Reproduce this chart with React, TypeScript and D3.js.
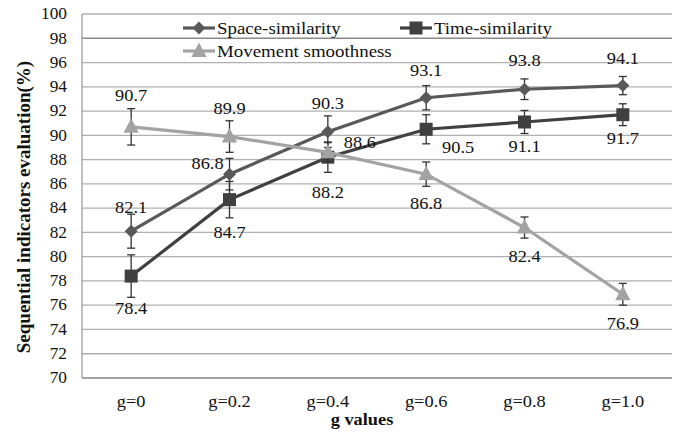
import React from 'react';
import * as d3 from 'd3';

const categories = ['g=0', 'g=0.2', 'g=0.4', 'g=0.6', 'g=0.8', 'g=1.0'];
const spaceValues = [82.1, 86.8, 90.3, 93.1, 93.8, 94.1];
const spaceErrors = [1.4, 1.3, 1.3, 1.0, 0.85, 0.75];
const timeValues = [78.4, 84.7, 88.2, 90.5, 91.1, 91.7];
const timeErrors = [1.75, 1.5, 1.25, 1.2, 0.95, 0.9];
const moveValues = [90.7, 89.9, 88.6, 86.8, 82.4, 76.9];
const moveErrors = [1.5, 1.3, 0.8, 1.0, 0.87, 0.9];
const yTicks = d3.range(70, 101, 2);

// where each data label sits relative to its point (dx, dy of text centre)
const spaceLabelPos = [[0, -24], [-22, -11], [0, -28], [0, -27], [0, -29], [0, -27]];
const timeLabelPos = [[0, 32], [0, 33], [0, 35], [32, 18], [0, 24], [0, 24]];
const moveLabelPos = [[0, -32], [0, -28], [32, -10], [0, 29], [0, 29], [0, 29]];

const W = 688, H = 433;
const left = 82, right = 672, top = 14, bottom = 378;
const SX = 1.08; // the picture is a bit wider than tall

const serif = 'Liberation Serif, DejaVu Serif, serif';

function HText({ x, y, size, children, anchor = 'middle', bold = false }: any) {
  return (
    <text
      transform={`translate(${x},${y}) scale(${SX},1)`}
      textAnchor={anchor}
      dominantBaseline="central"
      style={{ fontFamily: serif, fontSize: size, fontWeight: bold ? 'bold' : 'normal' }}
      fill="#111"
    >
      {children}
    </text>
  );
}

function Marker({ kind, x, y, color }: any) {
  if (kind === 'diamond') {
    const r = 6.5;
    return <path d={`M${x},${y - r}L${x + r},${y}L${x},${y + r}L${x - r},${y}Z`} fill={color} />;
  }
  if (kind === 'square') {
    const s = 13;
    return <rect x={x - s / 2} y={y - s / 2} width={s} height={s} fill={color} />;
  }
  const r = 8.5;
  return <path d={`M${x},${y - r}L${x + r * 0.9},${y + r * 0.7}L${x - r * 0.9},${y + r * 0.7}Z`} fill={color} />;
}

export default function App() {
  const x = d3.scalePoint<string>().domain(categories).range([left, right]).padding(0.5);
  const y = d3.scaleLinear().domain([70, 100]).range([bottom, top]);
  const line = d3.line<number>().x((_, i) => x(categories[i]) as number).y(d => y(d));

  const series = [
    { name: 'Space-similarity', values: spaceValues, errors: spaceErrors, color: '#595959', kind: 'diamond', labels: spaceLabelPos },
    { name: 'Time-similarity', values: timeValues, errors: timeErrors, color: '#404040', kind: 'square', labels: timeLabelPos },
    { name: 'Movement smoothness', values: moveValues, errors: moveErrors, color: '#a3a3a3', kind: 'triangle', labels: moveLabelPos },
  ];

  const legend = [
    { s: series[0], lx: 183, ly: 28 },
    { s: series[1], lx: 400, ly: 28 },
    { s: series[2], lx: 183, ly: 51 },
  ];

  return (
    <svg width={W} height={H} style={{ position: 'absolute', left: 0, top: 0, background: '#fff' }}>
      {/* grid */}
      {yTicks.map(t => (
        <line key={t} x1={left} x2={right} y1={y(t)} y2={y(t)}
          stroke={t === 98 ? '#8a8a8a' : '#b0b0b0'} strokeWidth={1.3} />
      ))}
      <line x1={left} x2={left} y1={top} y2={bottom} stroke="#a0a0a0" strokeWidth={1.3} />
      <line x1={left} x2={right} y1={bottom} y2={bottom} stroke="#999" strokeWidth={1.3} />

      {/* y ticks */}
      {yTicks.map(t => (
        <HText key={t} x={67} y={y(t)} size={16} anchor="end">{t}</HText>
      ))}
      {/* x ticks */}
      {categories.map(c => (
        <HText key={c} x={x(c)} y={401} size={17}>{c}</HText>
      ))}
      <HText x={362} y={419} size={17} bold>g values</HText>
      <text
        transform={`translate(23,207) rotate(-90)`}
        textAnchor="middle"
        dominantBaseline="central"
        style={{ fontFamily: serif, fontSize: 19, fontWeight: 'bold' }}
        fill="#111"
      >
        Sequential indicators evaluation(%)
      </text>

      {/* series */}
      {series.map(s => (
        <g key={s.name}>
          <path d={line(s.values) as string} fill="none" stroke={s.color} strokeWidth={3.2} />
          {s.values.map((v, i) => {
            const cx = x(categories[i]) as number;
            const e = s.errors[i];
            return (
              <g key={i}>
                <line x1={cx} x2={cx} y1={y(v + e)} y2={y(v - e)} stroke="#333" strokeWidth={1.3} />
                <line x1={cx - 4} x2={cx + 4} y1={y(v + e)} y2={y(v + e)} stroke="#333" strokeWidth={1.3} />
                <line x1={cx - 4} x2={cx + 4} y1={y(v - e)} y2={y(v - e)} stroke="#333" strokeWidth={1.3} />
                <Marker kind={s.kind} x={cx} y={y(v)} color={s.color} />
              </g>
            );
          })}
        </g>
      ))}

      {/* data labels */}
      {series.map(s =>
        s.values.map((v, i) => (
          <HText key={s.name + i} x={(x(categories[i]) as number) + s.labels[i][0]} y={y(v) + s.labels[i][1]} size={17}>
            {v.toFixed(1)}
          </HText>
        ))
      )}

      {/* legend */}
      {legend.map(({ s, lx, ly }) => (
        <g key={s.name}>
          <line x1={lx} x2={lx + 32} y1={ly} y2={ly} stroke={s.color} strokeWidth={3.2} />
          <Marker kind={s.kind} x={lx + 16} y={ly} color={s.color} />
          <HText x={lx + 34} y={ly} size={17.5} anchor="start">{s.name}</HText>
        </g>
      ))}
    </svg>
  );
}
